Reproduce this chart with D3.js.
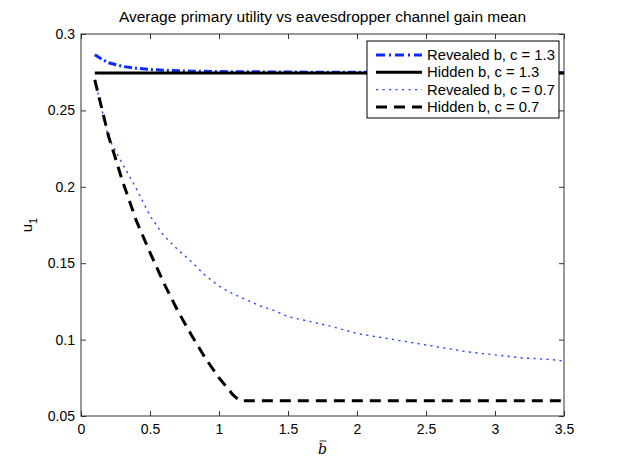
<!DOCTYPE html>
<html>
<head>
<meta charset="utf-8">
<script src="https://cdn.jsdelivr.net/npm/d3@7"></script>
<style>
  body { margin: 0; background: #fff; }
  text { font-family: "Liberation Sans", Arial, Helvetica, sans-serif; }
</style>
</head>
<body>
<svg id="chart" width="623" height="468"></svg>
<script>
// curve data
const xRevealed13 = [0.1, 0.15, 0.2, 0.3, 0.4, 0.5, 0.6, 0.8, 1.0, 1.5, 2.0, 2.5, 3.0, 3.5];
const yRevealed13 = [0.2865, 0.2835, 0.2812, 0.2788, 0.2776, 0.2768, 0.2762, 0.2757, 0.2754, 0.2751, 0.2749, 0.2748, 0.2747, 0.2746];

const xHidden13 = [0.1, 3.5];
const yHidden13 = [0.2745, 0.2745];

const xRevealed07 = [0.1, 0.2, 0.3, 0.4, 0.5, 0.6, 0.7, 0.8, 0.9, 1.0, 1.1, 1.2, 1.3, 1.4, 1.5, 1.6, 1.8, 2.0, 2.2, 2.4, 2.6, 2.8, 3.0, 3.2, 3.4, 3.5];
const yRevealed07 = [0.270, 0.232, 0.215, 0.199, 0.181, 0.168, 0.159, 0.151, 0.142, 0.135, 0.130, 0.126, 0.122, 0.119, 0.115, 0.113, 0.109, 0.104, 0.101, 0.098, 0.095, 0.092, 0.090, 0.088, 0.087, 0.086];

const xHidden07 = [0.1, 0.2, 0.3, 0.4, 0.5, 0.6, 0.7, 0.8, 0.9, 1.0, 1.1, 1.15, 1.2, 1.5, 2.0, 2.5, 3.0, 3.5];
const yHidden07 = [0.270, 0.233, 0.204, 0.178, 0.157, 0.137, 0.119, 0.103, 0.088, 0.075, 0.064, 0.060, 0.060, 0.060, 0.060, 0.060, 0.060, 0.060];

const xTicks = [0, 0.5, 1, 1.5, 2, 2.5, 3, 3.5];
const yTicks = [0.05, 0.1, 0.15, 0.2, 0.25, 0.3];

const legendLabels = ["Revealed b, c = 1.3", "Hidden b, c = 1.3", "Revealed b, c = 0.7", "Hidden b, c = 0.7"];

const series = [
  { xs: xRevealed13, ys: yRevealed13, color: "#0a2cff", width: 3, dash: "8,3,2,3" },
  { xs: xHidden13, ys: yHidden13, color: "#000", width: 3, dash: null },
  { xs: xRevealed07, ys: yRevealed07, color: "#2f48ff", width: 1.4, dash: "2.2,4.3" },
  { xs: xHidden07, ys: yHidden07, color: "#000", width: 3, dash: "11,7" }
];

const svg = d3.select("#chart");
const mLeft = 81, mRight = 564, mTop = 34, mBottom = 416;

const x = d3.scaleLinear().domain([0, 3.5]).range([mLeft, mRight]);
const y = d3.scaleLinear().domain([0.05, 0.3]).range([mBottom, mTop]);

// axes, matlab style: ticks inside on all four sides
const axisColor = "#333";
const tickLen = 5;
const fmt = d => String(d);

const xAxisB = svg.append("g").attr("transform", `translate(0,${mBottom})`)
  .call(d3.axisBottom(x).tickValues(xTicks).tickSize(-tickLen).tickPadding(7).tickFormat(fmt));
const xAxisT = svg.append("g").attr("transform", `translate(0,${mTop})`)
  .call(d3.axisTop(x).tickValues(xTicks).tickSize(-tickLen).tickFormat(""));
const yAxisL = svg.append("g").attr("transform", `translate(${mLeft},0)`)
  .call(d3.axisLeft(y).tickValues(yTicks).tickSize(-tickLen).tickPadding(6).tickFormat(fmt));
const yAxisR = svg.append("g").attr("transform", `translate(${mRight},0)`)
  .call(d3.axisRight(y).tickValues(yTicks).tickSize(-tickLen).tickFormat(""));

[xAxisB, xAxisT, yAxisL, yAxisR].forEach(g => {
  g.select(".domain").remove();
  g.selectAll(".tick line").attr("stroke", axisColor);
  g.selectAll("text").attr("fill", "#000").style("font-size", "14px")
    .style("font-family", "'Liberation Sans', Arial, sans-serif");
});
xAxisB.selectAll("text").attr("dy", "0.8em");

svg.append("rect")
  .attr("x", mLeft).attr("y", mTop).attr("width", mRight - mLeft).attr("height", mBottom - mTop)
  .attr("fill", "none").attr("stroke", axisColor).attr("stroke-width", 1);

// lines
svg.append("clipPath").attr("id", "plotclip").append("rect")
  .attr("x", mLeft).attr("y", mTop).attr("width", mRight - mLeft).attr("height", mBottom - mTop);

const plot = svg.append("g").attr("clip-path", "url(#plotclip)");
series.forEach(s => {
  const pts = s.xs.map((v, i) => [v, s.ys[i]]);
  plot.append("path")
    .datum(pts)
    .attr("d", d3.line().x(d => x(d[0])).y(d => y(d[1])))
    .attr("fill", "none")
    .attr("stroke", s.color)
    .attr("stroke-width", s.width)
    .attr("stroke-dasharray", s.dash);
});

// title and axis labels
svg.append("text")
  .attr("x", (mLeft + mRight) / 2).attr("y", 22)
  .attr("text-anchor", "middle").style("font-size", "15.5px")
  .text("Average primary utility vs eavesdropper channel gain mean");

svg.append("text")
  .attr("x", (mLeft + mRight) / 2).attr("y", 454)
  .attr("text-anchor", "middle")
  .style("font-family", "'DejaVu Serif', 'Liberation Serif', serif")
  .style("font-style", "italic").style("font-size", "14px")
  .text("b");
svg.append("line")
  .attr("x1", (mLeft + mRight) / 2 - 3).attr("x2", (mLeft + mRight) / 2 + 4)
  .attr("y1", 441).attr("y2", 441)
  .attr("stroke", "#000").attr("stroke-width", 0.8);

const yl = svg.append("text")
  .attr("transform", `translate(32,${(mTop + mBottom) / 2}) rotate(-90)`)
  .attr("text-anchor", "middle").style("font-size", "15px");
yl.append("tspan").text("u");
yl.append("tspan").attr("dy", 5).style("font-size", "11px").text("1");

// legend
const lg = svg.append("g");
lg.append("rect")
  .attr("x", 367).attr("y", 41).attr("width", 192).attr("height", 77)
  .attr("fill", "#fff").attr("stroke", "#000").attr("stroke-width", 1);
legendLabels.forEach((lab, i) => {
  const s = series[i];
  const yy = 55 + i * 17.3;
  lg.append("line")
    .attr("x1", 376).attr("x2", 422).attr("y1", yy).attr("y2", yy)
    .attr("stroke", s.color).attr("stroke-width", s.width)
    .attr("stroke-dasharray", i === 0 ? "9,4,2,4" : s.dash);
  lg.append("text")
    .attr("x", 427).attr("y", yy + 5)
    .style("font-size", "14.8px")
    .text(lab);
});
</script>
</body>
</html>
